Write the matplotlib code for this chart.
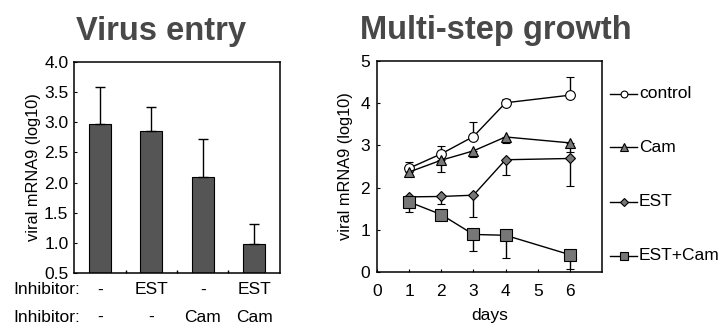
import numpy as np
import matplotlib
matplotlib.use("Agg")
import matplotlib.pyplot as plt
from matplotlib.lines import Line2D
from matplotlib import transforms

plt.rcParams['font.family'] = ['Liberation Sans', 'DejaVu Sans']

# ---- data: virus entry (bar chart)
entry_values = [2.97, 2.86, 2.10, 0.98]
entry_err_up = [0.61, 0.40, 0.63, 0.34]
inhibitor_row1 = ["-", "EST", "-", "EST"]
inhibitor_row2 = ["-", "-", "Cam", "Cam"]

# ---- data: multi-step growth (lines)
days = [1, 2, 3, 4, 6]
control = [2.46, 2.80, 3.21, 4.01, 4.19]
control_err_up = [0.15, 0.18, 0.35, 0.10, 0.42]
cam = [2.37, 2.65, 2.87, 3.20, 3.06]
cam_err_down = [0.06, 0.28, 0.15, 0.14, 0.22]
est = [1.78, 1.79, 1.82, 2.66, 2.69]
est_err_down = [0.0, 0.19, 0.52, 0.35, 0.66]
estcam = [1.66, 1.36, 0.89, 0.87, 0.41]
estcam_err_down = [0.24, 0.0, 0.39, 0.55, 0.33]
series_names = ["control", "Cam", "EST", "EST+Cam"]

W, H = 723, 329
fig = plt.figure(figsize=(W / 100, H / 100), dpi=100)

def box(x0, y0, x1, y1):
    # pixel box -> figure fraction
    return [x0 / W, 1 - y1 / H, (x1 - x0) / W, (y1 - y0) / H]

gray = "#555555"
title_col = "#484848"
fs = 12.5

############ Left panel
ax1 = fig.add_axes(box(74, 62, 280, 273))
xpos = np.arange(len(entry_values))
ax1.bar(xpos, entry_values, width=0.42, bottom=0, color=gray,
        edgecolor="black", linewidth=0.8, zorder=2)
ax1.errorbar(xpos, entry_values, yerr=[np.zeros(4), entry_err_up], fmt="none",
             ecolor="black", elinewidth=1.0, capsize=3.5, capthick=1.0, zorder=3)
ax1.set_ylim(0.5, 4.0)
ax1.set_xlim(-0.5, 3.5)
ax1.set_yticks(np.arange(0.5, 4.01, 0.5))
ax1.set_yticklabels(["%.1f" % v for v in np.arange(0.5, 4.01, 0.5)])
ax1.set_xticks([0.5, 1.5, 2.5])
ax1.set_xticklabels([])
ax1.tick_params(axis="x", direction="in", length=2, width=1)
ax1.tick_params(axis="y", direction="in", length=2, labelsize=fs, pad=4)
ax1.set_ylabel("viral mRNA9 (log10)", fontsize=11.8, labelpad=2)
for s in ax1.spines.values():
    s.set_linewidth(1.1)
ax1.set_title("Virus entry", fontsize=23.5, fontweight="bold", color=title_col,
              pad=16, x=0.42)

trans = transforms.blended_transform_factory(ax1.transData, fig.transFigure)
for i in range(4):
    ax1.text(xpos[i], 1 - 290 / H, inhibitor_row1[i], transform=trans,
             ha="center", va="center", fontsize=fs)
    ax1.text(xpos[i], 1 - 317 / H, inhibitor_row2[i], transform=trans,
             ha="center", va="center", fontsize=fs)
fig.text(13 / W, 1 - 290 / H, "Inhibitor:", ha="left", va="center", fontsize=fs)
fig.text(13 / W, 1 - 317 / H, "Inhibitor:", ha="left", va="center", fontsize=fs)

############ Right panel
ax2 = fig.add_axes(box(377, 61, 602, 272))
z = np.zeros(len(days))
styles = [
    (control, [z, control_err_up], "o", "white", 7),
    (cam, [cam_err_down, z], "^", "#777777", 7.5),
    (est, [est_err_down, z], "D", "#777777", 5.5),
    (estcam, [estcam_err_down, z], "s", "#777777", 8.5),
]
for vals, err, mk, fc, ms in styles:
    ax2.errorbar(days, vals, yerr=err, color="black", lw=1.0, ecolor="black",
                 elinewidth=1.0, capsize=3, capthick=1.0, marker=mk, mfc=fc,
                 mec="black", mew=0.8, ms=ms, zorder=3)
ax2.set_xlim(0, 7)
ax2.set_ylim(0, 5)
ax2.set_xticks([0, 1, 2, 3, 4, 5, 6])
ax2.set_yticks([0, 1, 2, 3, 4, 5])
ax2.tick_params(axis="x", direction="in", length=2, labelsize=fs, pad=9)
ax2.tick_params(axis="y", direction="in", length=2, labelsize=fs, pad=5)
ax2.set_xlabel("days", fontsize=fs, labelpad=6)
ax2.set_ylabel("viral mRNA9 (log10)", fontsize=11.8, labelpad=5)
for s in ax2.spines.values():
    s.set_linewidth(1.1)
ax2.set_title("Multi-step growth", fontsize=23.5, fontweight="bold", color=title_col,
              pad=16, x=0.53)

# legend drawn beside the axes
leg_y = [94, 147, 202, 256]
for (vals, err, mk, fc, ms), name, yy in zip(styles, series_names, leg_y):
    yf = 1 - yy / H
    fig.add_artist(Line2D([610 / W, 637 / W], [yf, yf], color="black", lw=1.0,
                          transform=fig.transFigure))
    fig.add_artist(Line2D([623.5 / W], [yf], marker=mk, mfc=fc, mec="black",
                          mew=0.8, ms=ms * 0.7, transform=fig.transFigure))
    fig.text(639 / W, yf, name, ha="left", va="center", fontsize=fs)

fig.savefig("out.png", dpi=100)
